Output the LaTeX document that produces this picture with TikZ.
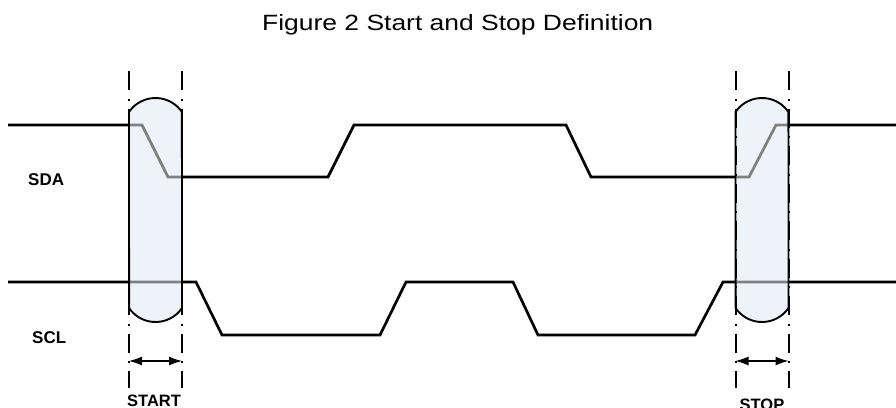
\documentclass[tikz,border=0pt]{standalone}
\usepackage{graphicx}
\usepackage{fontspec}
\setmainfont{Liberation Sans}
\usetikzlibrary{arrows.meta}
\definecolor{capfill}{HTML}{EEF3FA}
\definecolor{insidegray}{HTML}{808080}
\newcommand\capsulepath[1]{(#1-26.5,112) arc[start angle=214.2,end angle=325.8,radius=32] -- (#1+26.5,308) arc[start angle=34.2,end angle=145.8,radius=32] -- cycle}
\newcommand\sdapath{(8,125) -- (142,125) -- (168,177) -- (328,177) -- (354,125) -- (566,125) -- (591,177) -- (749,177) -- (776,125) -- (896,125)}
\newcommand\sclpath{(8,282) -- (196,282) -- (222,335) -- (380,335) -- (406,282) -- (513,282) -- (538,335) -- (695,335) -- (723,282) -- (896,282)}
\begin{document}
\begin{tikzpicture}[x=1pt,y=-1pt,
  signal/.style={line width=2.7pt, line join=miter},
  insig/.style={signal, draw=insidegray},
  capline/.style={draw=black, line width=1.9pt},
  guide/.style={line width=2pt, dash pattern=on 19pt off 8.5pt on 2pt off 8pt},
  spanarrow/.style={line width=1.2pt, {Latex[length=13pt,width=9pt]}-{Latex[length=13pt,width=9pt]}},
  lbl/.style={font=\bfseries\fontsize{17}{20}\selectfont, anchor=base west, inner sep=0pt},
  lblsmall/.style={font=\bfseries\fontsize{16.5}{20}\selectfont, inner sep=0pt},
]
\useasboundingbox (0,0) rectangle (896,407);
\clip (0,0) rectangle (896,407);
% title
\node[anchor=base west, inner sep=0pt] (title) at (262,30) {\resizebox{391pt}{16pt}{Figure 2 Start and Stop Definition}};
% signals
\draw[signal] \sdapath;
\draw[signal] \sclpath;
% capsules
\fill[capfill] \capsulepath{155.5};
\fill[capfill] \capsulepath{762};
\begin{scope}
  \clip \capsulepath{155.5};
  \draw[insig] \sdapath;
  \draw[insig] \sclpath;
\end{scope}
\begin{scope}
  \clip \capsulepath{762};
  \draw[insig] \sdapath;
  \draw[insig] \sclpath;
\end{scope}
\draw[capline] \capsulepath{155.5};
\draw[capline] \capsulepath{762};
% guide lines
\coordinate (s1t) at (129,71); \coordinate (s1b) at (129,388);
\coordinate (s2t) at (182,71); \coordinate (s2b) at (182,388);
\coordinate (p1t) at (735.5,71); \coordinate (p1b) at (735.5,388);
\coordinate (p2t) at (788.5,71); \coordinate (p2b) at (788.5,388);
\draw[guide] (s1t) -- (s1b);
\draw[guide] (s2t) -- (s2b);
\draw[guide] (p1t) -- (p1b);
\draw[guide] (p2t) -- (p2b);
% span arrows
\coordinate (sa1) at (129,361); \coordinate (sa2) at (182,361);
\coordinate (pa1) at (735.5,361); \coordinate (pa2) at (788.5,361);
\draw[spanarrow] (sa1) -- (sa2);
\draw[spanarrow] (pa1) -- (pa2);
% labels
\node[lbl] (sda) at (28,185) {SDA};
\node[lbl] (scl) at (32,343) {SCL};
\node[lblsmall, anchor=base west] (start) at (127,406) {START};
\node[lblsmall, anchor=base] (stop) at (762,410) {STOP};
\end{tikzpicture}
\end{document}
